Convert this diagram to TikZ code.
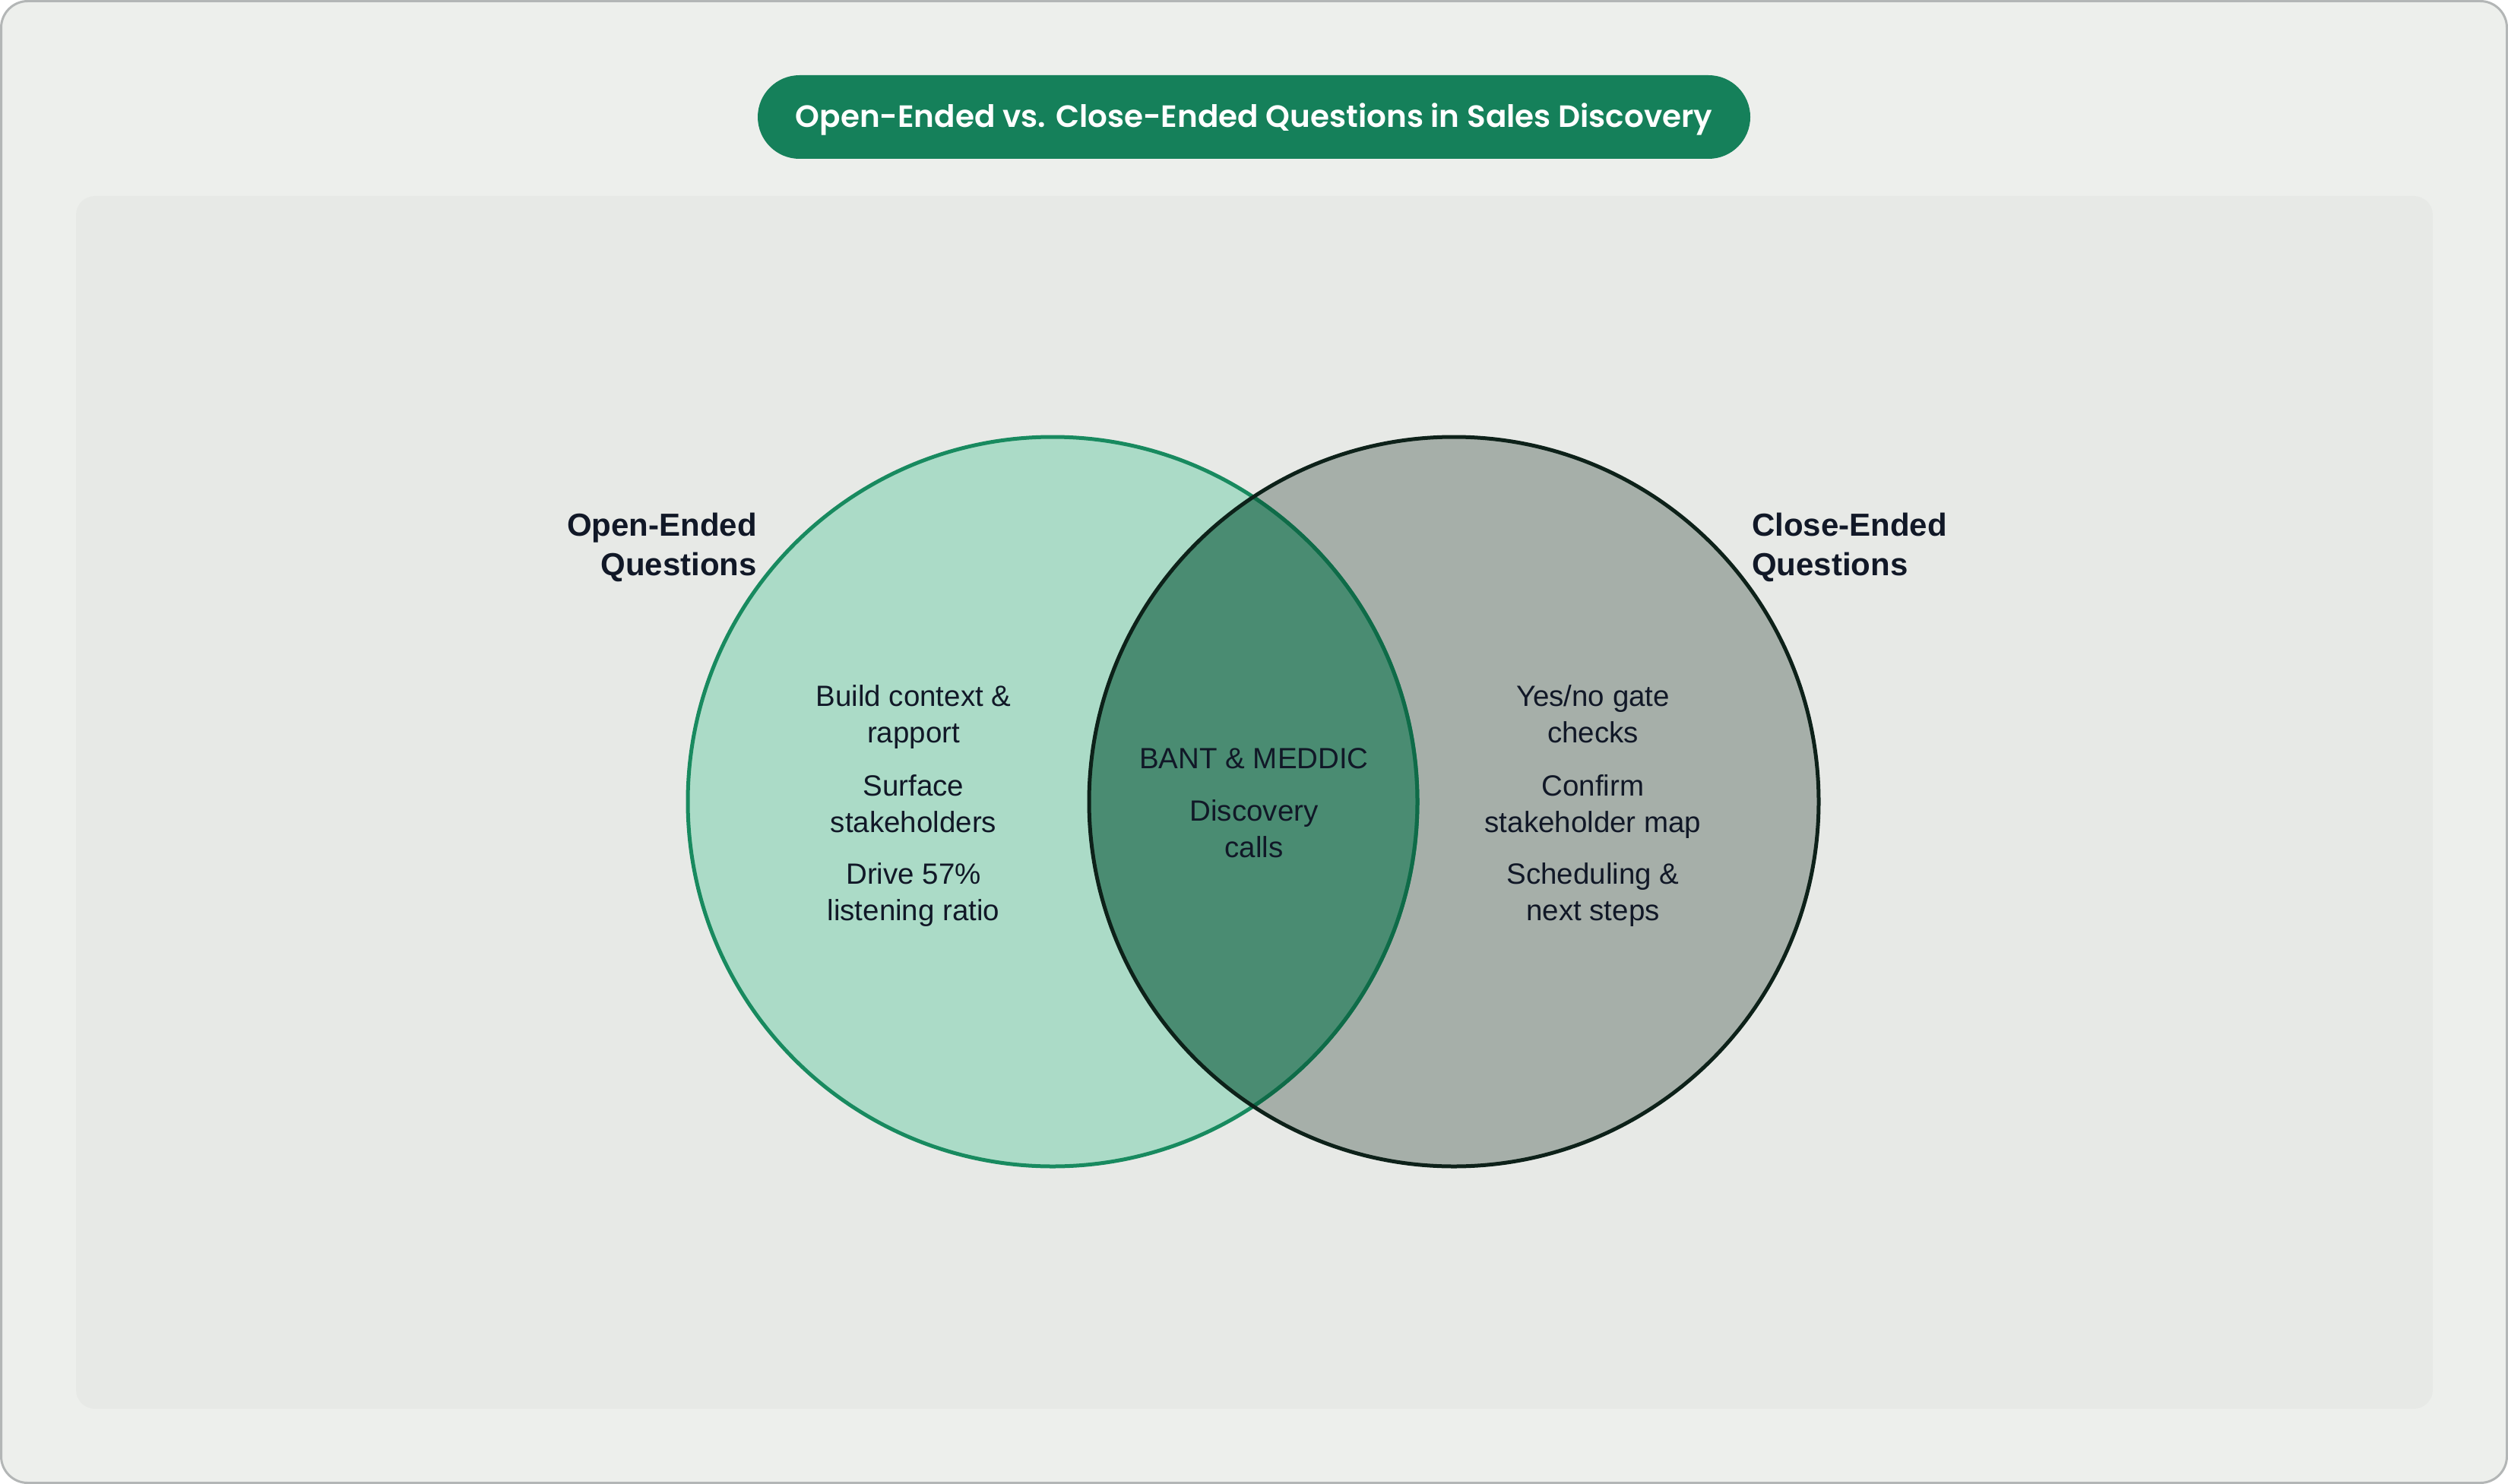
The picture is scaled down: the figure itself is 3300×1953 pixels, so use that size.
\documentclass[tikz,border=0pt]{standalone}
\usepackage{fontspec}
\setmainfont{Liberation Sans}
\IfFontExistsTF{Poppins SemiBold}
  {\newfontfamily\titlefont{Poppins SemiBold}}
  {\newfontfamily\titlefont{Poppins}[UprightFont=*-SemiBold]}
\definecolor{outerbg}{HTML}{EDEFEC}
\definecolor{outerline}{HTML}{B3B6B6}
\definecolor{panelbg}{HTML}{E7E9E6}
\definecolor{titlegreen}{HTML}{15805A}
\definecolor{leftfill}{HTML}{ABDBC7}
\definecolor{leftline}{HTML}{188A5F}
\definecolor{leftlinein}{HTML}{0F6B48}
\definecolor{rightfill}{HTML}{A6AFA9}
\definecolor{rightline}{HTML}{0D2119}
\definecolor{interfill}{HTML}{4A8C72}
\definecolor{ink}{HTML}{111827}
\tikzset{
  bodytext/.style={text=ink, align=center, inner sep=0pt, font=\fontsize{38.5}{48}\selectfont},
  headtext/.style={text=ink, inner sep=0pt, font=\fontsize{42}{52}\selectfont\bfseries},
}
\begin{document}
\begin{tikzpicture}[x=1pt,y=-1pt]
\useasboundingbox (0,0) rectangle (3300,1953);
% outer frame
\draw[fill=outerbg, draw=outerline, line width=3pt, rounded corners=35pt] (1.5,1.5) rectangle (3298.5,1951.5);
% inner panel
\fill[panelbg, rounded corners=25pt] (100,258) rectangle (3201,1854);
% title pill and text
\node[fill=titlegreen, rounded corners=55pt, minimum width=1306pt, minimum height=110pt, inner sep=0pt] (pill) at (1650,154) {};
\node[inner sep=0pt, text=white, font=\titlefont\fontsize{40.5}{46}\selectfont] (title) at (1650,157)
      {Open-Ended vs. Close-Ended Questions in Sales Discovery};
% circles
\coordinate (lc) at (1385,1055);
\coordinate (rc) at (1913,1055);
\fill[leftfill] (lc) circle[radius=480pt];
\fill[rightfill] (rc) circle[radius=480pt];
\begin{scope}
  \clip (lc) circle[radius=480pt];
  \fill[interfill] (rc) circle[radius=480pt];
\end{scope}
\draw[leftline, line width=5pt] (lc) circle[radius=480pt];
\begin{scope}
  \clip (rc) circle[radius=478pt];
  \draw[leftlinein, line width=5pt] (lc) circle[radius=480pt];
\end{scope}
\draw[rightline, line width=5pt] (rc) circle[radius=480pt];
% headings
\node[headtext, anchor=east, align=right] (lhead) at (996,720) {Open-Ended\\Questions};
\node[headtext, anchor=west, align=left] (rhead) at (2305,720) {Close-Ended\\Questions};
% left texts
\node[bodytext] (l1) at (1202,944) {Build context \&\\rapport};
\node[bodytext] (l2) at (1202,1058) {Surface\\stakeholders};
\node[bodytext] (l3) at (1202,1178) {Drive 57\%\\listening ratio};
% center texts
\node[bodytext] (c1) at (1650,998) {BANT \& MEDDIC};
\node[bodytext] (c2) at (1650,1091) {Discovery\\calls};
% right texts
\node[bodytext] (r1) at (2096,940) {Yes/no gate\\checks};
\node[bodytext] (r2) at (2096,1062) {Confirm\\stakeholder map};
\node[bodytext] (r3) at (2096,1178) {Scheduling \&\\next steps};
\end{tikzpicture}
\end{document}
